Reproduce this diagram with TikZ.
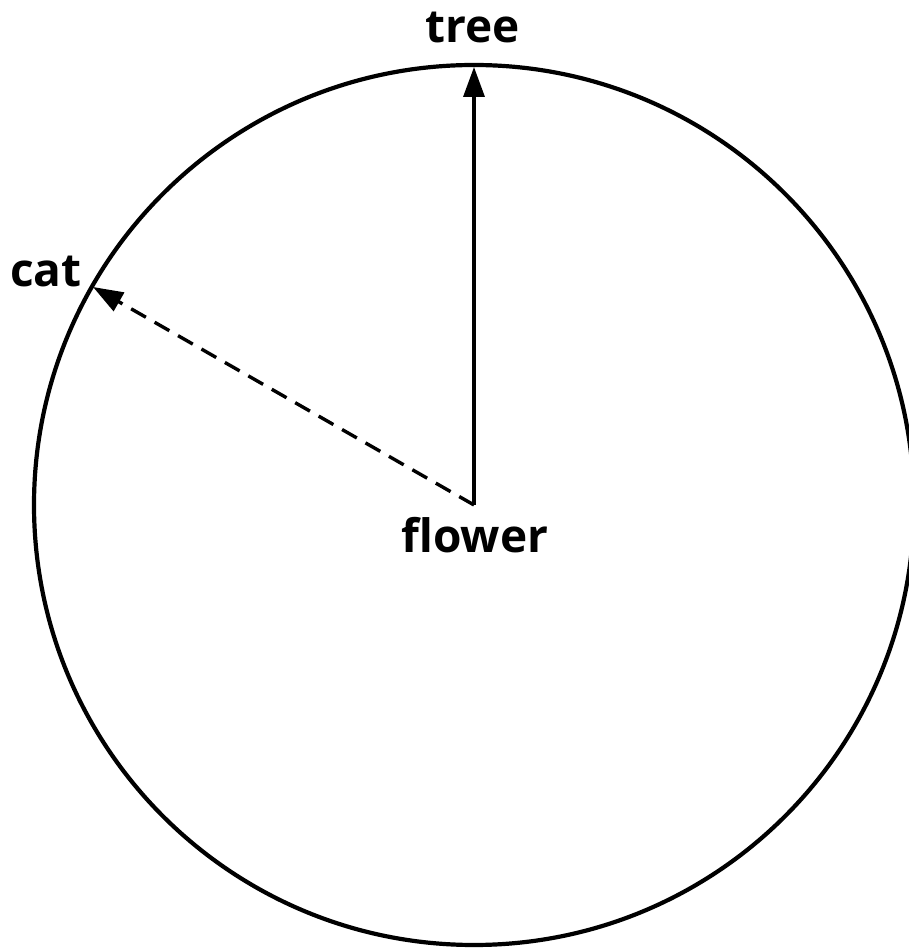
\documentclass[tikz,border=0pt]{standalone}
\usepackage{fontspec}
\setsansfont{Open Sans}
\usepackage{tikz}
\usetikzlibrary{arrows.meta}

\tikzset{
  lbl/.style={font=\sffamily\bfseries\fontsize{46}{46}\selectfont, inner sep=0pt, anchor=base},
  rim/.style={line width=4.2pt},
  ray/.style={line width=3.4pt, -{Triangle[length=30pt,width=21pt]}}
}

\begin{document}
\begin{tikzpicture}[x=1pt,y=1pt]
    \useasboundingbox (0,0) rectangle (909,951);
    \coordinate (ctr) at (474,446);
    \draw[rim] (ctr) circle (440);
    \coordinate (treept) at (474,884);
    \coordinate (catpt) at (93,664);
    \node[lbl] (tree) at (473,908) {tree};
    \node[lbl] (cat) at (46,664) {cat};
    \node[lbl] (flower) at (475,398) {flower};
    \draw[ray] (ctr) -- (treept);
    \draw[ray, dash pattern=on 17pt off 10pt] (ctr) -- (catpt);
\end{tikzpicture}
\end{document}
